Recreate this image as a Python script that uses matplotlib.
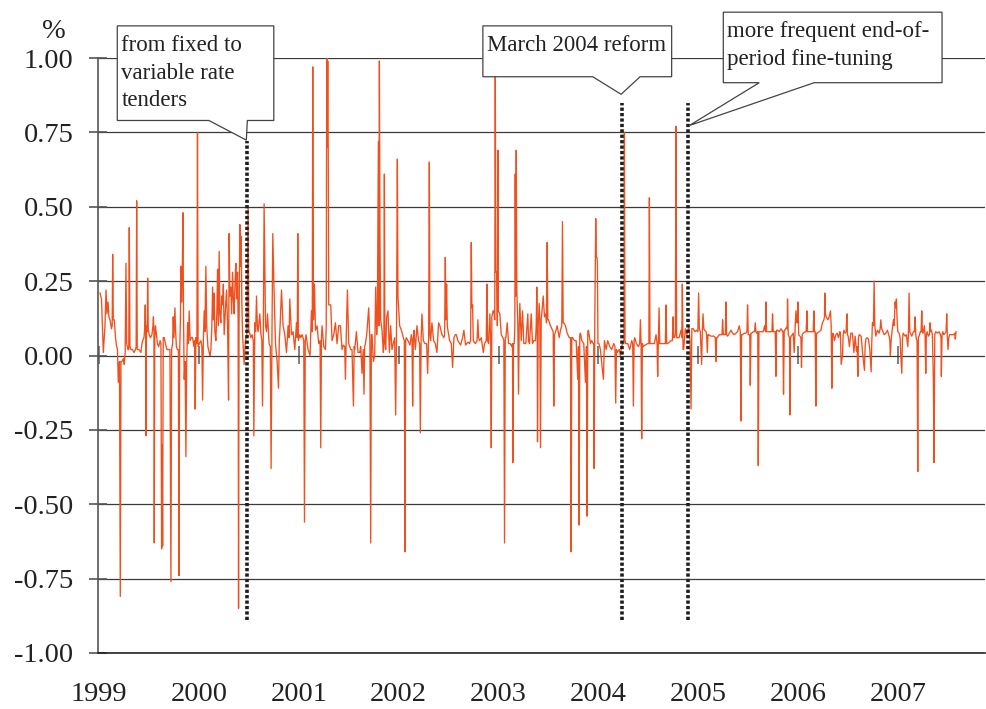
import matplotlib

matplotlib.use("Agg")
import matplotlib.pyplot as plt  # noqa: E402
from matplotlib.patches import Polygon  # noqa: E402

plt.rcParams["font.family"] = ["Liberation Serif", "DejaVu Serif"]

# (fraction of year, value in %), one list per year
y1999 = [
    (0.010, 0.21), (0.025, 0.19), (0.043, 0.01), (0.060, 0.10), (0.070, 0.22), (0.080, 0.14),
    (0.090, 0.18), (0.100, 0.13), (0.110, 0.12), (0.125, 0.09), (0.132, 0.10), (0.137, 0.34),
    (0.143, 0.12), (0.153, 0.12), (0.165, 0.06), (0.177, 0.03), (0.185, 0.02), (0.193, -0.09),
    (0.205, -0.02), (0.213, -0.81), (0.220, -0.02), (0.230, -0.02), (0.245, -0.01), (0.253, -0.03),
    (0.262, 0.01), (0.270, 0.31), (0.277, 0.04), (0.290, 0.02), (0.298, 0.02), (0.303, 0.43),
    (0.310, 0.03), (0.320, 0.02), (0.335, 0.02), (0.350, 0.01), (0.365, 0.02), (0.372, 0.03),
    (0.377, 0.52), (0.383, 0.02), (0.400, 0.02), (0.420, 0.01), (0.430, 0.04), (0.437, 0.05),
    (0.450, 0.06), (0.458, 0.09), (0.463, 0.17), (0.467, 0.07), (0.470, -0.27), (0.475, 0.10),
    (0.483, 0.08), (0.487, 0.26), (0.493, 0.09), (0.503, 0.07), (0.515, 0.06), (0.530, 0.07),
    (0.540, 0.10), (0.545, 0.13), (0.550, 0.08), (0.553, -0.63), (0.558, 0.05), (0.565, 0.10),
    (0.572, 0.08), (0.585, 0.04), (0.597, 0.03), (0.612, 0.05), (0.620, 0.04), (0.627, -0.65),
    (0.632, -0.30), (0.637, -0.64), (0.643, 0.06), (0.653, 0.06), (0.665, 0.04), (0.680, 0.02),
    (0.695, 0.02), (0.710, 0.02), (0.720, -0.76), (0.727, 0.02), (0.737, 0.04), (0.743, 0.13),
    (0.750, 0.06), (0.760, 0.16), (0.767, 0.08), (0.775, 0.03), (0.785, 0.02), (0.795, 0.02),
    (0.800, -0.74), (0.807, 0.00), (0.815, 0.12), (0.820, 0.30), (0.827, 0.18), (0.833, 0.25),
    (0.840, 0.48), (0.847, 0.10), (0.853, -0.08), (0.862, -0.02), (0.870, -0.34), (0.877, -0.05),
    (0.887, 0.11), (0.895, 0.04), (0.903, 0.15), (0.912, 0.05), (0.925, 0.06), (0.937, 0.06),
    (0.950, 0.03), (0.957, 0.05), (0.963, -0.18), (0.970, 0.06), (0.980, 0.04), (0.986, 0.75),
    (0.992, 0.03),
]
y2000 = [
    (0.005, 0.04), (0.020, 0.05), (0.030, 0.03), (0.037, -0.15), (0.045, 0.06), (0.053, 0.15),
    (0.060, 0.08), (0.070, 0.30), (0.078, 0.10), (0.090, 0.03), (0.103, 0.01), (0.112, 0.00),
    (0.120, 0.02), (0.130, 0.10), (0.137, 0.23), (0.145, 0.12), (0.153, 0.21), (0.160, 0.08),
    (0.170, 0.05), (0.180, 0.15), (0.187, 0.29), (0.195, 0.10), (0.203, 0.35), (0.210, 0.14),
    (0.220, 0.11), (0.228, 0.20), (0.237, 0.17), (0.245, 0.24), (0.253, 0.07), (0.265, 0.15),
    (0.277, 0.22), (0.287, 0.10), (0.297, -0.15), (0.300, 0.18), (0.303, 0.41), (0.310, 0.20),
    (0.320, 0.23), (0.328, 0.14), (0.337, 0.28), (0.345, 0.19), (0.353, 0.14), (0.362, 0.25),
    (0.370, 0.31), (0.378, 0.19), (0.387, 0.28), (0.393, 0.12), (0.397, -0.85), (0.402, 0.10),
    (0.410, 0.44), (0.417, 0.30), (0.423, 0.40), (0.430, 0.18), (0.437, 0.07), (0.445, 0.02),
    (0.453, -0.03), (0.465, 0.05), (0.480, 0.07), (0.493, 0.50), (0.500, 0.085), (0.520, 0.06),
    (0.533, 0.07), (0.545, 0.05), (0.550, -0.27), (0.560, 0.11), (0.568, 0.08), (0.577, 0.20),
    (0.585, 0.10), (0.593, 0.08), (0.610, 0.14), (0.620, 0.075), (0.630, 0.05), (0.637, -0.17),
    (0.645, 0.08), (0.653, 0.51), (0.667, 0.10), (0.677, 0.08), (0.687, 0.14), (0.703, 0.04),
    (0.715, 0.03), (0.723, -0.38), (0.732, 0.09), (0.740, 0.41), (0.753, 0.21), (0.767, 0.04),
    (0.783, -0.02), (0.797, -0.11), (0.805, 0.05), (0.813, 0.10), (0.827, 0.22), (0.843, 0.10),
    (0.860, 0.07), (0.877, 0.01), (0.893, 0.10), (0.903, 0.06), (0.910, 0.19), (0.927, 0.07),
    (0.943, 0.08), (0.960, 0.02), (0.977, 0.11), (0.985, 0.06), (0.990, 0.41), (0.996, 0.05),
]
y2001 = [
    (0.010, 0.07), (0.020, 0.06), (0.033, 0.07), (0.050, 0.05), (0.057, -0.56), (0.065, 0.05),
    (0.073, 0.07), (0.093, 0.02), (0.113, 0.00), (0.127, 0.15), (0.135, 0.08), (0.140, 0.97),
    (0.147, 0.12), (0.157, 0.24), (0.167, 0.085), (0.183, 0.10), (0.200, 0.04), (0.213, 0.05),
    (0.220, -0.31), (0.227, 0.06), (0.233, 0.10), (0.250, 0.03), (0.267, 0.02), (0.275, 0.10),
    (0.280, 1.00), (0.285, 0.70), (0.290, 0.99), (0.295, 0.68), (0.300, 0.17), (0.320, 0.17),
    (0.333, 0.05), (0.350, 0.07), (0.367, 0.11), (0.383, 0.04), (0.400, 0.10), (0.417, 0.10),
    (0.433, 0.02), (0.447, 0.035), (0.460, 0.03), (0.467, -0.08), (0.475, 0.06), (0.487, 0.22),
    (0.500, 0.04), (0.520, 0.02), (0.533, 0.02), (0.547, -0.17), (0.555, 0.03), (0.560, 0.02),
    (0.577, 0.08), (0.593, 0.01), (0.610, 0.01), (0.620, 0.03), (0.633, -0.06), (0.645, 0.02),
    (0.653, -0.13), (0.660, 0.03), (0.667, 0.04), (0.680, 0.07), (0.700, 0.16), (0.712, 0.05),
    (0.720, -0.63), (0.727, 0.07), (0.733, 0.07), (0.747, -0.02), (0.760, 0.00), (0.770, 0.23),
    (0.780, 0.07), (0.787, 0.13), (0.797, 0.72), (0.802, 0.10), (0.807, 0.99), (0.813, 0.40),
    (0.820, 0.12), (0.833, 0.085), (0.847, 0.01), (0.852, 0.05), (0.857, 0.61), (0.862, 0.05),
    (0.870, 0.02), (0.880, 0.13), (0.893, 0.15), (0.907, 0.01), (0.920, 0.10), (0.933, 0.02),
    (0.947, 0.04), (0.960, 0.06), (0.970, -0.20), (0.978, 0.06), (0.987, 0.66), (0.993, 0.20),
]
y2002 = [
    (0.010, 0.10), (0.027, 0.085), (0.047, 0.06), (0.057, 0.05), (0.063, -0.66), (0.070, 0.05),
    (0.077, 0.06), (0.093, 0.05), (0.113, 0.035), (0.127, 0.07), (0.134, 0.05), (0.140, -0.17),
    (0.147, 0.06), (0.153, 0.085), (0.167, 0.02), (0.183, 0.10), (0.200, 0.05), (0.210, 0.04),
    (0.217, -0.26), (0.225, 0.06), (0.233, 0.14), (0.247, 0.05), (0.263, 0.04), (0.280, 0.04),
    (0.290, -0.06), (0.300, 0.06), (0.307, 0.65), (0.313, 0.07), (0.320, 0.05), (0.333, 0.11),
    (0.350, 0.05), (0.367, 0.04), (0.383, 0.01), (0.400, 0.11), (0.413, 0.10), (0.433, 0.07),
    (0.453, 0.06), (0.460, 0.07), (0.467, 0.33), (0.473, 0.12), (0.480, 0.24), (0.487, 0.10),
    (0.493, 0.085), (0.510, 0.05), (0.527, 0.04), (0.540, -0.04), (0.553, 0.06), (0.567, 0.07),
    (0.577, 0.07), (0.593, 0.05), (0.620, 0.035), (0.640, 0.06), (0.653, 0.085), (0.670, 0.035),
    (0.693, 0.045), (0.710, 0.04), (0.720, 0.05), (0.727, 0.38), (0.733, 0.16), (0.740, 0.17),
    (0.747, 0.05), (0.767, 0.04), (0.785, 0.05), (0.793, 0.12), (0.800, 0.06), (0.810, 0.05),
    (0.827, 0.06), (0.847, 0.01), (0.860, 0.04), (0.877, 0.05), (0.883, 0.24), (0.890, 0.05),
    (0.900, 0.04), (0.913, 0.14), (0.920, 0.06), (0.927, -0.31), (0.933, 0.13), (0.945, 0.15),
    (0.953, 0.15), (0.962, 0.12), (0.967, 0.98), (0.973, 0.28), (0.982, 0.28), (0.988, 0.10),
    (0.993, 0.69), (0.998, 0.15),
]
y2003 = [
    (0.013, 0.14), (0.027, 0.07), (0.043, 0.06), (0.053, 0.05), (0.060, -0.63), (0.067, 0.06),
    (0.073, 0.06), (0.087, 0.11), (0.100, 0.04), (0.117, 0.04), (0.133, 0.03), (0.140, 0.04),
    (0.143, -0.36), (0.150, 0.04), (0.157, 0.04), (0.163, 0.10), (0.167, 0.61), (0.172, 0.20),
    (0.177, 0.69), (0.183, 0.22), (0.193, 0.10), (0.200, -0.13), (0.207, 0.10), (0.213, 0.175),
    (0.227, 0.05), (0.240, 0.15), (0.253, 0.04), (0.273, 0.04), (0.293, 0.14), (0.300, 0.05),
    (0.310, 0.04), (0.327, 0.14), (0.340, 0.04), (0.353, 0.05), (0.370, 0.05), (0.377, 0.10),
    (0.383, 0.23), (0.387, 0.12), (0.390, -0.29), (0.397, 0.10), (0.407, 0.175), (0.413, 0.12),
    (0.420, -0.31), (0.427, 0.12), (0.433, 0.14), (0.447, 0.20), (0.460, 0.13), (0.473, 0.14),
    (0.480, 0.11), (0.487, 0.38), (0.493, 0.12), (0.500, 0.12), (0.520, 0.10), (0.540, 0.085),
    (0.547, 0.08), (0.553, -0.17), (0.560, 0.07), (0.567, 0.075), (0.587, 0.10), (0.607, 0.06),
    (0.620, 0.085), (0.633, 0.10), (0.640, 0.45), (0.647, 0.11), (0.653, 0.11), (0.670, 0.10),
    (0.687, 0.075), (0.707, 0.06), (0.720, 0.06), (0.727, -0.66), (0.733, 0.06), (0.740, 0.06),
    (0.760, 0.05), (0.777, 0.05), (0.793, -0.08), (0.800, 0.03), (0.807, -0.57), (0.813, 0.07),
    (0.820, 0.075), (0.833, 0.05), (0.853, 0.04), (0.870, -0.09), (0.880, 0.03), (0.887, -0.54),
    (0.893, 0.08), (0.900, 0.085), (0.920, 0.04), (0.933, 0.05), (0.947, 0.04), (0.953, 0.04),
    (0.957, -0.38), (0.963, 0.10), (0.973, 0.46), (0.978, 0.33), (0.985, 0.33), (0.990, 0.31),
    (0.995, 0.04),
]
y2004 = [
    (0.005, 0.04), (0.020, 0.02), (0.037, -0.04), (0.050, -0.08), (0.060, 0.05), (0.077, 0.02),
    (0.093, 0.05), (0.113, 0.03), (0.133, 0.02), (0.153, 0.04), (0.165, 0.03), (0.173, -0.16),
    (0.180, 0.02), (0.187, 0.01), (0.207, 0.02), (0.220, 0.00), (0.230, 0.03), (0.243, 0.04),
    (0.255, 0.04), (0.260, 0.75), (0.266, 0.05), (0.273, 0.04), (0.293, 0.04), (0.313, 0.02),
    (0.333, 0.05), (0.343, 0.04), (0.350, -0.17), (0.357, 0.05), (0.363, 0.06), (0.380, 0.04),
    (0.400, 0.03), (0.413, 0.04), (0.420, 0.12), (0.427, 0.04), (0.433, -0.28), (0.440, 0.04),
    (0.447, 0.03), (0.467, 0.035), (0.493, 0.04), (0.505, 0.04), (0.510, 0.53), (0.516, 0.04),
    (0.523, 0.04), (0.543, 0.04), (0.560, 0.04), (0.577, 0.07), (0.587, 0.04), (0.593, -0.07),
    (0.600, 0.04), (0.607, 0.16), (0.613, 0.04), (0.620, 0.04), (0.640, 0.04), (0.660, 0.04),
    (0.670, 0.04), (0.677, 0.17), (0.683, 0.04), (0.693, 0.04), (0.710, 0.045), (0.727, 0.05),
    (0.740, 0.05), (0.747, 0.13), (0.753, 0.06), (0.760, 0.06), (0.770, 0.07), (0.777, 0.77),
    (0.783, 0.06), (0.793, 0.06), (0.807, 0.06), (0.827, 0.085), (0.835, 0.06), (0.840, 0.24),
    (0.847, 0.02), (0.853, 0.02), (0.870, 0.09), (0.885, 0.07), (0.893, 0.08), (0.905, 0.10),
    (0.917, 0.05), (0.927, -0.18), (0.935, 0.09), (0.950, 0.09), (0.965, 0.08), (0.983, 0.085),
    (0.995, 0.08),
]
y2005 = [
    (0.003, 0.21), (0.010, 0.09), (0.020, 0.08), (0.033, -0.03), (0.040, 0.08), (0.047, 0.14),
    (0.055, 0.09), (0.063, 0.085), (0.077, 0.08), (0.083, 0.07), (0.090, 0.01), (0.097, 0.07),
    (0.103, 0.07), (0.127, 0.065), (0.157, 0.065), (0.170, 0.06), (0.177, -0.02), (0.183, 0.06),
    (0.190, 0.06), (0.210, 0.07), (0.227, 0.07), (0.237, 0.07), (0.243, 0.12), (0.250, 0.07),
    (0.257, 0.07), (0.270, 0.07), (0.277, 0.18), (0.283, 0.07), (0.293, 0.065), (0.310, 0.075),
    (0.327, 0.085), (0.343, 0.075), (0.360, 0.07), (0.377, 0.075), (0.393, 0.08), (0.410, 0.10),
    (0.420, 0.08), (0.427, -0.22), (0.433, 0.07), (0.440, 0.07), (0.460, 0.075), (0.477, 0.075),
    (0.487, 0.08), (0.493, 0.17), (0.500, 0.07), (0.507, 0.07), (0.515, 0.07), (0.520, -0.10),
    (0.527, 0.075), (0.533, 0.075), (0.550, 0.08), (0.563, 0.08), (0.570, 0.11), (0.577, 0.08),
    (0.583, 0.075), (0.595, 0.08), (0.600, -0.37), (0.607, 0.08), (0.613, 0.08), (0.630, 0.08),
    (0.650, 0.08), (0.663, 0.10), (0.673, 0.08), (0.677, 0.18), (0.683, 0.08), (0.690, 0.08),
    (0.710, 0.08), (0.730, 0.08), (0.737, 0.08), (0.743, 0.14), (0.750, 0.08), (0.757, 0.08),
    (0.770, 0.08), (0.777, -0.07), (0.783, 0.085), (0.790, 0.085), (0.810, 0.08), (0.827, 0.09),
    (0.837, 0.085), (0.847, 0.08), (0.853, -0.13), (0.860, 0.085), (0.867, 0.085), (0.883, 0.095),
    (0.890, 0.09), (0.893, 0.19), (0.900, 0.07), (0.907, 0.065), (0.913, 0.06), (0.917, -0.20),
    (0.923, 0.06), (0.930, 0.065), (0.950, 0.075), (0.960, 0.01), (0.970, 0.10), (0.977, 0.15),
    (0.985, 0.11), (0.990, 0.11), (0.997, 0.18),
]
y2006 = [
    (0.005, 0.07), (0.017, 0.065), (0.027, 0.06), (0.033, -0.04), (0.040, 0.07), (0.050, 0.075),
    (0.070, 0.08), (0.080, 0.08), (0.087, 0.15), (0.093, 0.08), (0.103, 0.08), (0.120, 0.08),
    (0.137, 0.08), (0.150, 0.08), (0.157, 0.15), (0.163, 0.08), (0.170, 0.08), (0.177, -0.17),
    (0.183, 0.075), (0.190, 0.075), (0.210, 0.08), (0.227, 0.085), (0.243, 0.11), (0.257, 0.12),
    (0.263, 0.13), (0.267, 0.21), (0.273, 0.14), (0.280, 0.13), (0.297, 0.12), (0.310, 0.13),
    (0.323, 0.15), (0.330, 0.10), (0.337, -0.11), (0.343, 0.07), (0.350, 0.075), (0.363, 0.05),
    (0.377, 0.07), (0.390, 0.075), (0.403, 0.06), (0.417, 0.08), (0.423, 0.07), (0.430, -0.03),
    (0.443, 0.00), (0.450, 0.07), (0.457, 0.085), (0.470, 0.075), (0.480, 0.08), (0.487, 0.14),
    (0.493, 0.07), (0.500, 0.065), (0.513, 0.03), (0.527, 0.075), (0.543, 0.075), (0.557, 0.01),
    (0.570, 0.065), (0.583, 0.015), (0.590, 0.03), (0.597, -0.07), (0.603, 0.06), (0.610, 0.07),
    (0.630, 0.065), (0.647, 0.00), (0.663, -0.05), (0.670, 0.03), (0.677, 0.055), (0.690, 0.06),
    (0.703, 0.055), (0.717, 0.02), (0.730, -0.055), (0.737, 0.05), (0.743, 0.11), (0.753, 0.10),
    (0.760, 0.25), (0.767, 0.10), (0.777, 0.065), (0.793, 0.085), (0.810, 0.075), (0.820, 0.09),
    (0.827, 0.12), (0.835, 0.09), (0.843, 0.085), (0.860, 0.07), (0.877, 0.075), (0.893, 0.085),
    (0.910, 0.065), (0.917, 0.05), (0.923, 0.00), (0.930, 0.05), (0.937, 0.075), (0.953, 0.12),
    (0.960, 0.10), (0.970, 0.18), (0.977, 0.16), (0.983, 0.19), (0.990, 0.12), (0.997, 0.08),
]
y2007 = [
    (0.010, 0.075), (0.020, 0.06), (0.027, 0.00), (0.037, -0.06), (0.043, 0.05), (0.050, 0.075),
    (0.070, 0.065), (0.083, 0.07), (0.097, 0.03), (0.103, 0.07), (0.110, 0.21), (0.117, 0.08),
    (0.123, 0.075), (0.137, 0.065), (0.153, 0.08), (0.163, 0.08), (0.170, 0.13), (0.177, 0.07),
    (0.183, 0.055), (0.190, 0.05), (0.197, -0.39), (0.203, 0.06), (0.210, 0.065), (0.223, 0.08),
    (0.230, 0.08), (0.237, 0.15), (0.243, 0.08), (0.250, 0.075), (0.263, 0.10), (0.270, 0.07),
    (0.277, -0.06), (0.283, 0.07), (0.290, 0.08), (0.303, 0.065), (0.313, 0.07), (0.320, 0.11),
    (0.327, 0.08), (0.333, 0.085), (0.343, 0.07), (0.353, -0.08), (0.360, -0.36), (0.367, 0.07),
    (0.377, 0.08), (0.393, 0.075), (0.410, 0.08), (0.423, 0.07), (0.430, 0.06), (0.433, -0.07),
    (0.440, 0.07), (0.447, 0.08), (0.457, 0.07), (0.470, 0.075), (0.480, 0.08), (0.487, 0.14),
    (0.493, 0.06), (0.500, 0.02), (0.507, 0.06), (0.517, 0.07), (0.537, 0.07), (0.557, 0.07),
    (0.567, 0.075), (0.573, 0.055), (0.580, 0.08),
]

years = [1999, 2000, 2001, 2002, 2003, 2004, 2005, 2006, 2007]
year_data = [y1999, y2000, y2001, y2002, y2003, y2004, y2005, y2006, y2007]
y_ticks = [-1.0, -0.75, -0.5, -0.25, 0.0, 0.25, 0.5, 0.75, 1.0]

# regime changes: (date, top of marker)
events = [(2000.477, 0.722), (2004.233, 0.85), (2004.893, 0.85)]
event_bottom = -0.889

# callouts: text, box (x0, x1, y_bottom, y_top), tail (x_left, x_right, tip_x, tip_y)
callouts = [
    ("from fixed to\nvariable rate\ntenders", (1999.183, 2000.75, 0.79, 1.108),
     (2000.10, 2000.485, 2000.475, 0.724)),
    ("March 2004 reform", (2002.843, 2004.733, 0.937, 1.108),
     (2003.943, 2004.417, 2004.227, 0.878)),
    ("more frequent end-of-\nperiod fine-tuning", (2005.25, 2007.44, 0.917, 1.154),
     (2005.61, 2006.16, 2004.91, 0.773)),
]

t = [yr + f for yr, pts in zip(years, year_data) for f, _ in pts]
v = [val for pts in year_data for _, val in pts]

W, H = 986, 709
fig = plt.figure(figsize=(W / 100, H / 100), dpi=100)
fig.patch.set_facecolor("white")
ax = fig.add_axes([98 / W, 1 - 653 / H, (985 - 98) / W, (653 - 58) / H])

ax.plot(t, v, color="#f0501e", lw=0.95, zorder=3)

ax.set_xlim(1998.99, 2007.87)
ax.set_ylim(-1, 1)

ax.set_yticks(y_ticks)
ax.set_yticklabels(["{:.2f}".format(y) for y in y_ticks])
ax.yaxis.grid(True, color="#3a3a3a", lw=0.9)
ax.set_axisbelow(True)
ax.tick_params(axis="y", direction="inout", length=13.5, width=1.2, color="#555555",
               labelsize=20.5, pad=11, labelcolor="#222222")

ax.set_xticks(years)
ax.set_xticklabels([str(y) for y in years])
ax.tick_params(axis="x", length=0, pad=21, labelsize=20.5, labelcolor="#222222")

for side in ("top", "right"):
    ax.spines[side].set_visible(False)
ax.spines["left"].set_color("#555555")
ax.spines["left"].set_linewidth(1.2)
ax.spines["bottom"].set_color("#222222")
ax.spines["bottom"].set_linewidth(1.2)

# year ticks crossing the zero line
zero_ax = ax.secondary_xaxis(0.5)
zero_ax.set_xticks(years)
zero_ax.tick_params(direction="inout", length=13, width=1.4, color="#808080",
                    labelbottom=False, labeltop=False)
zero_ax.spines["bottom"].set_visible(False)
zero_ax.spines["top"].set_visible(False)

for ev_t, ev_top in events:
    ax.plot([ev_t, ev_t], [event_bottom, ev_top], color="#1e1e1e", lw=2.6,
            ls=(0, (0.9, 0.6)), dash_capstyle="butt", zorder=4)

for text, (x0, x1, yb, yt), (tl, tr, tx, ty) in callouts:
    verts = [(x0, yt), (x1, yt), (x1, yb), (tr, yb), (tx, ty), (tl, yb), (x0, yb)]
    ax.add_patch(Polygon(verts, closed=True, facecolor="white", edgecolor="#444444",
                         lw=0.9, clip_on=False, zorder=5))
    ax.text(x0 + 0.04, yt - 0.03, text, ha="left", va="top", fontsize=16.5,
            linespacing=1.42, color="#222222", zorder=6, clip_on=False)

fig.text(54 / W, 1 - 32 / H, "%", ha="center", va="center", fontsize=20.5, color="#222222")

fig.savefig("out.png", dpi=100, facecolor=fig.get_facecolor())
plt.close(fig)
